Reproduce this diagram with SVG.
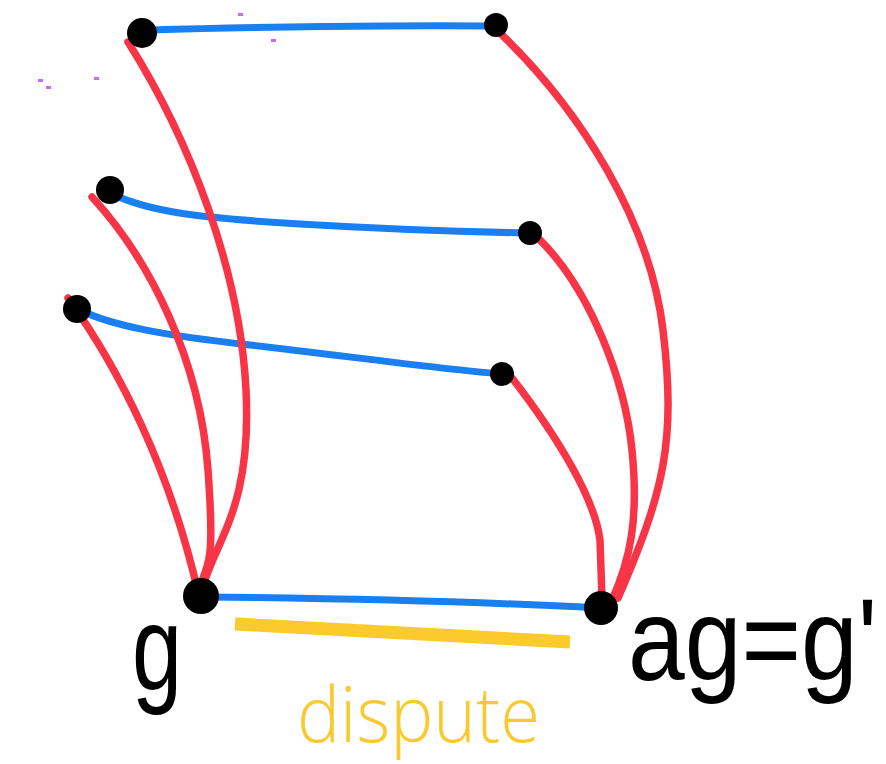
<svg xmlns="http://www.w3.org/2000/svg" width="886" height="764" viewBox="0 0 886 764">
<style>
.blue{fill:none;stroke:#1a80f2;stroke-width:7;stroke-linecap:round}
.red{fill:none;stroke:#f83547;stroke-width:7.5;stroke-linecap:round}
.dot{fill:#000}
.hand{font-family:"Liberation Sans","DejaVu Sans",sans-serif;fill:#000}
.speck{fill:#c46cf5}
</style>
<rect width="886" height="764" fill="#fff"/>
<g id="specks">
<rect class="speck" x="38" y="79" width="5" height="3"/>
<rect class="speck" x="46" y="86" width="5" height="3"/>
<rect class="speck" x="94" y="77" width="5" height="3"/>
<rect class="speck" x="238" y="13" width="5" height="3"/>
<rect class="speck" x="271" y="39" width="5" height="3"/>
</g>
<g id="connectors">
<path class="blue" d="M150,30 C250,27 400,25 496,26"/>
<path class="blue" d="M112,194 C150,212 200,218 300,224 S470,232 530,233"/>
<path class="blue" d="M80,310 C110,325 160,335 250,345 S430,368 502,374"/>
<path class="blue" d="M205,597 C300,598 450,600 600,608"/>
<path class="red" d="M128,42 C190,140 240,270 246,390 S215,540 201,592"/>
<path class="red" d="M92,197 C150,260 200,360 208,470 S205,560 200,590"/>
<path class="red" d="M68,298 C120,370 170,470 198,592"/>
<path class="red" d="M500,33 C580,110 650,220 663,330 S665,490 618,598"/>
<path class="red" d="M540,240 C590,290 625,380 632,450 S630,560 612,600"/>
<path class="red" d="M512,378 C560,440 595,500 600,540 L602,598"/>
</g>
<g id="nodeA"><circle class="dot" cx="142" cy="33" r="15"/></g>
<g id="nodeB"><circle class="dot" cx="496" cy="25" r="12"/></g>
<g id="nodeC"><circle class="dot" cx="110" cy="190" r="14"/></g>
<g id="nodeD"><circle class="dot" cx="530" cy="233" r="12"/></g>
<g id="nodeE"><circle class="dot" cx="77" cy="309" r="14"/></g>
<g id="nodeF"><circle class="dot" cx="502" cy="374" r="12"/></g>
<g id="nodeG"><circle class="dot" cx="201" cy="596" r="18"/></g>
<g id="nodeH"><circle class="dot" cx="601" cy="608" r="17"/></g>
<g id="dispute">
<path d="M235,624 L570,642" stroke="#fbcb2e" stroke-width="13" fill="none"/>
<text x="297" y="742" font-family="'Open Sans','DejaVu Sans',sans-serif" font-weight="300" font-size="78" fill="#f9c92f" textLength="243" lengthAdjust="spacingAndGlyphs">dispute</text>
</g>
<g id="labels">
<text class="hand" transform="translate(132,690) scale(0.9,1.2)" font-size="100">g</text>
<text class="hand" transform="translate(628,680) scale(1,1.15)" font-size="102">ag=g'</text>
</g>
</svg>
